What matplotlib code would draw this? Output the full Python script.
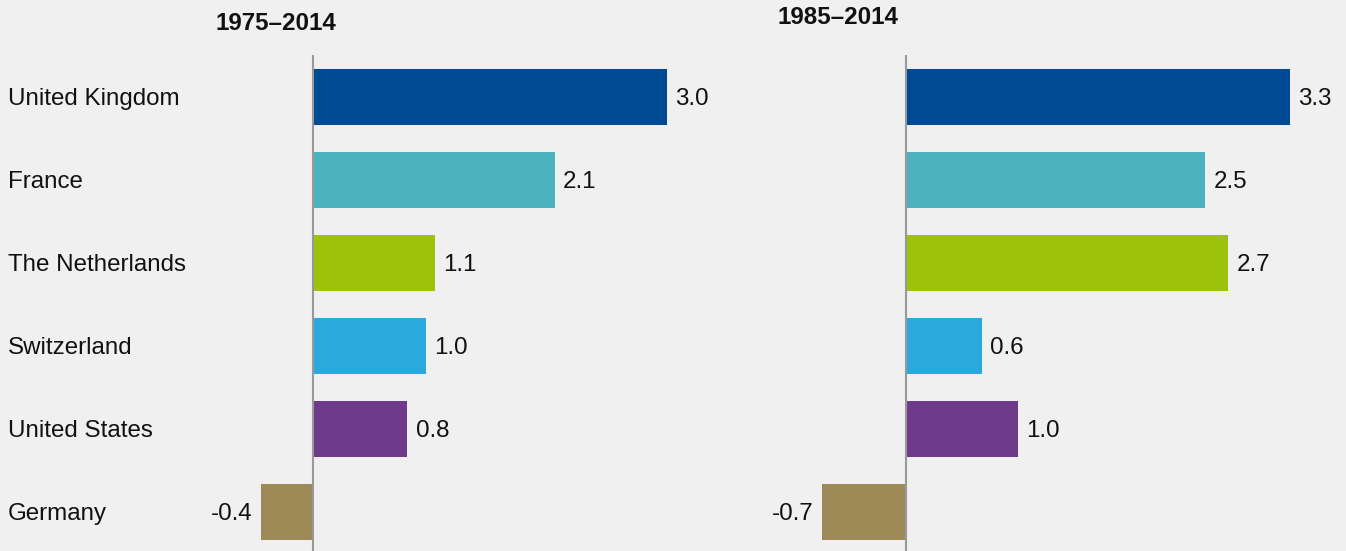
import matplotlib
matplotlib.use('Agg')
import matplotlib.pyplot as plt

plt.rcParams['font.family'] = ['Liberation Sans', 'DejaVu Sans']

# datos
paises = ['United Kingdom', 'France', 'The Netherlands', 'Switzerland',
          'United States', 'Germany']
colores = ['#004a93', '#4bb3bd', '#9cc20c', '#29a9dd', '#6f3a8b', '#9e8a56']

titulo_1 = '1975–2014'
valores_1 = [3.0, 2.05, 1.03, 0.96, 0.80, -0.44]
etiquetas_1 = ['3.0', '2.1', '1.1', '1.0', '0.8', '-0.4']

titulo_2 = '1985–2014'
valores_2 = [3.30, 2.57, 2.77, 0.65, 0.96, -0.72]
etiquetas_2 = ['3.3', '2.5', '2.7', '0.6', '1.0', '-0.7']

W, H = 1346, 551
fondo = '#f0f0f0'
fig = plt.figure(figsize=(W / 100, H / 100), dpi=100, facecolor=fondo)

# geometria en pixeles
y_top, y_bot = 55, 551
y0, paso = 97, 83
alto_barra = 56 / paso
fs = 17.4


def panel(x_izq, x_der, x_cero, escala, valores, etiquetas, titulo, x_titulo, y_titulo, con_nombres):
    ax = fig.add_axes([x_izq / W, 1 - y_bot / H, (x_der - x_izq) / W, (y_bot - y_top) / H])
    ax.set_facecolor(fondo)
    ax.set_xlim((x_izq - x_cero) / escala, (x_der - x_cero) / escala)
    ax.set_ylim((y_bot - y0) / paso, (y_top - y0) / paso)
    pos = list(range(len(valores)))
    ax.barh(pos, valores, height=alto_barra, color=colores, zorder=2)
    ax.axvline(0, color='#999999', lw=1.5, zorder=3)
    for p, v, t in zip(pos, valores, etiquetas):
        if v >= 0:
            ax.annotate(t, (v, p + 0.025), xytext=(6, 0), textcoords='offset points',
                        ha='left', va='center', fontsize=fs, color='#111111')
        else:
            ax.annotate(t, (v, p + 0.025), xytext=(-6, 0), textcoords='offset points',
                        ha='right', va='center', fontsize=fs, color='#111111')
    if con_nombres:
        x_nom = (8 - x_cero) / escala
        for p, n in zip(pos, paises):
            ax.text(x_nom, p + 0.02, n, ha='left', va='center', fontsize=fs,
                    color='#111111', clip_on=False)
    for s in ax.spines.values():
        s.set_visible(False)
    ax.set_xticks([])
    ax.set_yticks([])
    fig.text(x_titulo / W, 1 - y_titulo / H, titulo, ha='center', va='center',
             fontsize=fs, fontweight='bold', color='#111111')
    return ax


panel(190, 720, 313, 118.0, valores_1, etiquetas_1, titulo_1, 276, 23, True)
panel(740, 1346, 906, 116.4, valores_2, etiquetas_2, titulo_2, 838, 17, False)

fig.savefig('out.png', dpi=100, facecolor=fondo)
